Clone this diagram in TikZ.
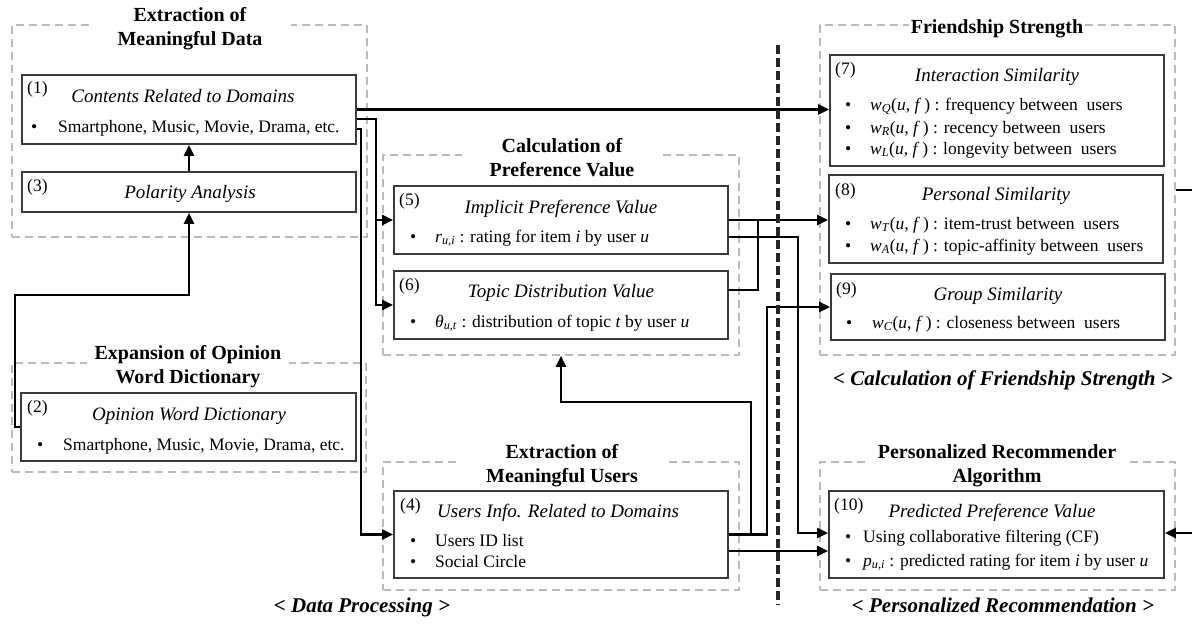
\documentclass[tikz,border=0pt]{standalone}
\usepackage{fontspec}
\setmainfont{Liberation Serif}
\usetikzlibrary{arrows.meta,calc}
\definecolor{boxgray}{HTML}{3A3A3A}
\definecolor{dashgray}{HTML}{BBBBBB}
\newcommand{\wv}[1]{\textit{w}\textsubscript{\textit{#1}}(\textit{u}, \textit{f}\,)}
\begin{document}
\begin{tikzpicture}[x=1pt,y=-1pt,
  box/.style 2 args={draw=boxgray, line width=1.7pt, minimum width=#1pt, minimum height=#2pt, inner sep=0pt},
  grp/.style 2 args={draw=dashgray, line width=1.6pt, dash pattern=on 8pt off 5pt, minimum width=#1pt, minimum height=#2pt, inner sep=0pt},
  txt/.style={font=\fontsize{17.5}{20}\selectfont, inner sep=0pt, anchor=mid west, yshift=-3pt},
  ttl/.style={font=\fontsize{19}{22}\selectfont\itshape, inner sep=0pt, anchor=mid, yshift=-3pt},
  gtitle/.style={font=\fontsize{20}{24}\selectfont\bfseries, align=center, fill=white, inner xsep=28pt, inner ysep=1pt, yshift=-2.5pt},
  sect/.style={font=\fontsize{21}{24}\selectfont\bfseries\itshape, inner sep=0pt, anchor=mid, yshift=-2pt},
  conn/.style={draw=black, line width=2.2pt, -{Triangle[length=11pt,width=10pt]}},
  line/.style={draw=black, line width=2.2pt}
]
\useasboundingbox (0,0) rectangle (1192,630);

% ---------- groups ----------
\node[grp={355}{212}] (g1) at (189.5,131) {};
\node[grp={354}{109}] (g2) at (189,417.5) {};
\node[grp={356}{200}] (g3) at (561,255) {};
\node[grp={356}{128}] (g4) at (561,526) {};
\node[grp={355}{330}] (g5) at (997.5,190) {};
\node[grp={355}{128}] (g6) at (997.5,526) {};

\node[gtitle] (t1) at (190,26) {Extraction of\\Meaningful Data};
\node[gtitle, inner xsep=8pt] (t2) at (188,364) {Expansion of Opinion\\Word Dictionary};
\node[gtitle] (t3) at (562,155) {Calculation of\\Preference Value};
\node[gtitle] (t4) at (562,463) {Extraction of\\Meaningful Users};
\node[gtitle, inner xsep=2pt] (t5) at (997,26) {Friendship Strength};
\node[gtitle, inner xsep=10pt] (t6) at (997,463) {Personalized Recommender\\Algorithm};

% ---------- boxes ----------
\node[box={334}{69}, fill=white] (b1) at (189,109.5) {};
\node[box={334}{40}, fill=white] (b3) at (189,192) {};
\node[box={335}{68}, fill=white] (b2) at (188.5,427) {};
\node[box={334}{68}, fill=white] (b5) at (561,220) {};
\node[box={334}{68}, fill=white] (b6) at (561,305) {};
\node[box={334}{87}, fill=white] (b4) at (561,534.5) {};
\node[box={334}{111}, fill=white] (b7) at (997,110.5) {};
\node[box={334}{88}, fill=white] (b8) at (996,219) {};
\node[box={334}{66}, fill=white] (b9) at (998,307) {};
\node[box={335}{87}, fill=white] (b10) at (996.5,534.5) {};

% ---------- box texts ----------
% (1)
\node[txt] (n1) at (27,88) {(1)};
\node[ttl] (h1) at (183,97) {Contents Related to Domains};
\node[txt] (d1) at (31,127) {•};
\node[txt] (l1) at (58,127) {Smartphone, Music, Movie, Drama, etc.};
% (3)
\node[txt] (n3) at (27,186) {(3)};
\node[ttl] (h3) at (190,193) {Polarity Analysis};
% (2)
\node[txt] (n2) at (27,407) {(2)};
\node[ttl] (h2) at (189,415) {Opinion Word Dictionary};
\node[txt] (d2) at (37,445) {•};
\node[txt] (l2) at (63,445) {Smartphone, Music, Movie, Drama, etc.};
% (5)
\node[txt] (n5) at (399,200) {(5)};
\node[ttl] (h5) at (561,208) {Implicit Preference Value};
\node[txt] (d5) at (410,237) {•};
\node[txt] (l5) at (435,237) {\textit{r}\textsubscript{\textit{u,i}} : rating for item \textit{i} by user \textit{u}};
% (6)
\node[txt] (n6) at (399,285) {(6)};
\node[ttl] (h6) at (561,292) {Topic Distribution Value};
\node[txt] (d6) at (410,322) {•};
\node[txt] (l6) at (435,322) {\textit{θ}\textsubscript{\textit{u,t}} : distribution of topic \textit{t} by user \textit{u}};
% (4)
\node[txt] (n4) at (400,505) {(4)};
\node[ttl, anchor=mid west] (h4) at (437,512) {Users Info. Related to Domains};
\node[txt] (d4a) at (410,541) {•};
\node[txt] (l4a) at (435,541) {Users ID list};
\node[txt] (d4b) at (410,562) {•};
\node[txt] (l4b) at (435,562) {Social Circle};
% (7)
\node[txt] (n7) at (835,69) {(7)};
\node[ttl] (h7) at (997,76) {Interaction Similarity};
\node[txt] (d7a) at (845,105) {•};
\node[txt] (l7a) at (870,105) {\wv{Q} : frequency between~ users};
\node[txt] (d7b) at (845,128) {•};
\node[txt] (l7b) at (870,128) {\wv{R} : recency between~ users};
\node[txt] (d7c) at (845,149) {•};
\node[txt] (l7c) at (870,149) {\wv{L} : longevity between~ users};
% (8)
\node[txt] (n8) at (835,190) {(8)};
\node[ttl] (h8) at (996,195) {Personal Similarity};
\node[txt] (d8a) at (845,224) {•};
\node[txt] (l8a) at (870,224) {\wv{T} : item-trust between~ users};
\node[txt] (d8b) at (845,246) {•};
\node[txt] (l8b) at (870,246) {\wv{A} : topic-affinity between~ users};
% (9)
\node[txt] (n9) at (836,289) {(9)};
\node[ttl] (h9) at (998,295) {Group Similarity};
\node[txt] (d9) at (846,323) {•};
\node[txt] (l9) at (872,323) {\wv{C} : closeness between~ users};
% (10)
\node[txt] (n10) at (834,505) {(10)};
\node[ttl] (h10) at (992,512) {Predicted Preference Value};
\node[txt] (d10a) at (845,537) {•};
\node[txt] (l10a) at (863,537) {Using collaborative filtering (CF)};
\node[txt] (d10b) at (845,561) {•};
\node[txt] (l10b) at (863,561) {\textit{p}\textsubscript{\textit{u,i}} : predicted rating for item \textit{i} by user \textit{u}};

% ---------- section labels ----------
\node[sect] (s1) at (362,608) {< Data Processing >};
\node[sect] (s2) at (1003,381) {< Calculation of Friendship Strength >};
\node[sect] (s3) at (1003,608) {< Personalized Recommendation >};

% ---------- connectors ----------
\draw[conn] (b3.north) -- (b1.south);
\draw[conn] (b2.west) -- ++(-5,0) -- ++(0,-132) -| (b3.south);
\draw[conn] (b1.east) -- (b1.east -| b7.west);
\draw[conn] ([yshift=-9.5pt]b1.east) -- ++(19,0) |- (b5.west);
\draw[conn] ([yshift=-9.5pt]b1.east) -- ++(19,0) |- (b6.west);
\draw[conn] ([yshift=-19.5pt]b1.east) -- ++(4,0) |- (b4.west);
\draw[conn] (b5.east) -- (b5.east -| b8.west);
\draw[line] ([yshift=15pt]b6.east) -- ++(29,0) |- (b5.east);
\draw[conn] ([yshift=-17pt]b5.east) -- ++(69,0) |- ([yshift=1.5pt]b10.west);
\draw[conn] (b4.east) -- ++(22,0) -- ++(0,-132.5) -| (g3.south);
\draw[conn] (b4.east) -- ++(38,0) |- (b9.west);
\draw[conn] ([yshift=-16.5pt]b4.east) -- ([yshift=-16.5pt]b4.east -| b10.west);
\coordinate (rj) at (1195,190);
\coordinate (rk) at (1195,533);
\draw[line] (g5.east) -- (rj);
\draw[conn] (rk) -- ([yshift=1.5pt]b10.east);

% ---------- divider ----------
\coordinate (vt) at (778,45);
\coordinate (vb) at (778,605);
\draw[draw=black!85, line width=3.2pt, dash pattern=on 9pt off 4pt] (vt) -- (vb);
\end{tikzpicture}
\end{document}
